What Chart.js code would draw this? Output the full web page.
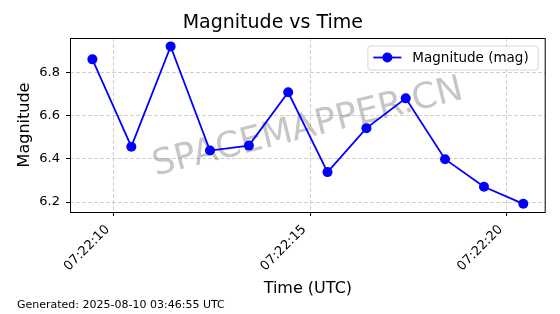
<!DOCTYPE html>
<html>
<head>
<meta charset="utf-8">
<script src="https://cdn.jsdelivr.net/npm/chart.js@4/dist/chart.umd.min.js"></script>
<style>
  html, body { margin: 0; padding: 0; background: #fff; }
  canvas { display: block; }
</style>
</head>
<body>
<canvas id="chart" width="560" height="314"></canvas>
<script>
// readings, one per second (UTC)
const times = ['07:22:09.46', '07:22:10.45', '07:22:11.45', '07:22:12.45', '07:22:13.44', '07:22:14.44',
               '07:22:15.44', '07:22:16.43', '07:22:17.43', '07:22:18.43', '07:22:19.42', '07:22:20.42']
const magnitudes = [6.862, 6.457, 6.922, 6.439, 6.462, 6.709, 6.339, 6.543, 6.681, 6.399, 6.271, 6.192]

const xTickLabels = ['07:22:10', '07:22:15', '07:22:20']
const yTicks = [6.2, 6.4, 6.6, 6.8]
const xRange = ['07:22:08.89', '07:22:20.99']
const yRange = [6.154, 6.961]

const seriesLabel = 'Magnitude (mag)'
const footerText = 'Generated: 2025-08-10 03:46:55 UTC'
const watermarkText = 'SPACEMAPPER.CN'

// seconds since 07:22:00
function toSeconds(t) {
    let parts = t.split(':').map(Number)
    return (parts[0] - 7) * 3600 + (parts[1] - 22) * 60 + parts[2]
}

function secondsLabel(v) {
    let s = Math.round(v)
    return '07:22:' + String(s).padStart(2, '0')
}

Chart.defaults.font.family = '"DejaVu Sans", sans-serif'
Chart.defaults.color = '#000'

const extrasPlugin = {
    id: 'extras',
    beforeDatasetsDraw(chart) {
        const {ctx, chartArea} = chart
        ctx.save()
        ctx.translate((chartArea.left + chartArea.right) / 2, (chartArea.top + chartArea.bottom) / 2 + 3)
        ctx.rotate(-14 * Math.PI / 180)
        ctx.font = '35.5px "DejaVu Sans"'
        ctx.fillStyle = 'rgba(128,128,128,0.45)'
        ctx.textAlign = 'center'
        ctx.textBaseline = 'middle'
        ctx.fillText(watermarkText, 0, 0)
        ctx.restore()
    },
    afterDraw(chart) {
        const {ctx, chartArea} = chart
        const ds = chart.data.datasets[0]

        // axes frame
        ctx.save()
        ctx.strokeStyle = '#000'
        ctx.lineWidth = 1
        ctx.strokeRect(chartArea.left + 0.5, chartArea.top + 0.5,
            chartArea.right - chartArea.left - 1, chartArea.bottom - chartArea.top)
        ctx.restore()

        // legend box (top right, inside axes)
        ctx.save()
        ctx.font = '13.5px "DejaVu Sans"'
        let textW = ctx.measureText(seriesLabel).width
        let boxW = textW + 54
        let boxH = 24
        let bx = chartArea.right - 8 - boxW
        let by = chartArea.top + 7.5
        ctx.beginPath()
        ctx.roundRect(bx + 0.5, by + 0.5, boxW, boxH, 3)
        ctx.fillStyle = 'rgba(255,255,255,0.8)'
        ctx.fill()
        ctx.strokeStyle = '#d6d6d6'
        ctx.lineWidth = 1
        ctx.stroke()
        let cy = by + boxH / 2
        ctx.strokeStyle = ds.borderColor
        ctx.lineWidth = ds.borderWidth
        ctx.beginPath()
        ctx.moveTo(bx + 6, cy)
        ctx.lineTo(bx + 34, cy)
        ctx.stroke()
        ctx.fillStyle = ds.backgroundColor
        ctx.beginPath()
        ctx.arc(bx + 20, cy, ds.pointRadius, 0, Math.PI * 2)
        ctx.fill()
        ctx.fillStyle = '#000'
        ctx.textBaseline = 'middle'
        ctx.fillText(seriesLabel, bx + 45, cy + 1)
        ctx.restore()

        // footer
        ctx.save()
        ctx.font = '11px "DejaVu Sans"'
        ctx.fillStyle = '#000'
        ctx.textBaseline = 'middle'
        ctx.fillText(footerText, 17, 305)
        ctx.restore()
    }
}

function drawChart(canvasElement) {
    const chartData = {
        datasets: [{
            label: seriesLabel,
            data: times.map((t, i) => ({x: toSeconds(t), y: magnitudes[i]})),
            borderColor: '#0000ff',
            backgroundColor: '#0000ff',
            borderWidth: 1.8,
            pointRadius: 5,
            pointHoverRadius: 5,
            pointBorderWidth: 0,
            tension: 0
        }]
    }

    const gridStyle = {
        color: '#d0d0d0',
        lineWidth: 1,
        tickLength: 4,
        tickColor: '#000',
        tickWidth: 1,
        tickBorderDash: []
    }

    const chartConfig = {
        type: 'line',
        data: chartData,
        options: {
            responsive: false,
            animation: false,
            layout: {padding: {left: 0, right: 14.3, top: 0, bottom: 0}},
            plugins: {
                legend: {display: false},
                tooltip: {enabled: false},
                title: {
                    display: true,
                    text: 'Magnitude vs Time',
                    font: {size: 19, weight: 'normal'},
                    color: '#000',
                    padding: {top: 12, bottom: 3.2}
                }
            },
            scales: {
                x: {
                    type: 'linear',
                    min: toSeconds(xRange[0]),
                    max: toSeconds(xRange[1]),
                    afterBuildTicks: scale => {
                        scale.ticks = xTickLabels.map(l => ({value: toSeconds(l)}))
                    },
                    afterFit: scale => { scale.height = 102 },
                    grid: gridStyle,
                    border: {display: false, dash: [4, 2]},
                    ticks: {
                        autoSkip: false,
                        minRotation: 45,
                        maxRotation: 45,
                        padding: 6,
                        labelOffset: -6,
                        font: {size: 13},
                        color: '#000',
                        callback: v => secondsLabel(v)
                    },
                    title: {
                        display: true,
                        text: 'Time (UTC)',
                        font: {size: 16},
                        color: '#000',
                        padding: {top: 0, bottom: 15.4}
                    }
                },
                y: {
                    type: 'linear',
                    min: yRange[0],
                    max: yRange[1],
                    afterBuildTicks: scale => {
                        scale.ticks = yTicks.map(v => ({value: v}))
                    },
                    afterFit: scale => { scale.width = 70 },
                    grid: gridStyle,
                    border: {display: false, dash: [4, 2]},
                    ticks: {
                        padding: 6,
                        font: {size: 13},
                        color: '#000',
                        callback: v => v.toFixed(1)
                    },
                    title: {
                        display: true,
                        text: 'Magnitude',
                        font: {size: 16},
                        color: '#000',
                        padding: {top: 15.4, bottom: 0}
                    }
                }
            }
        },
        plugins: [extrasPlugin]
    }

    return new Chart(canvasElement.getContext('2d'), chartConfig)
}

drawChart(document.getElementById('chart'))
</script>
</body>
</html>
